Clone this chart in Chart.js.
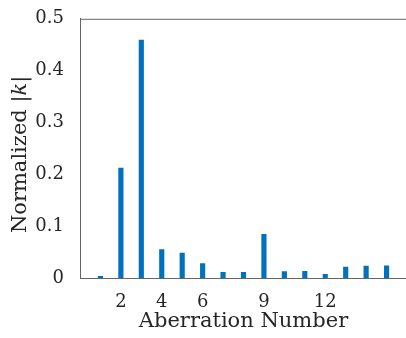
<!DOCTYPE html>
<html>
<head>
<meta charset="utf-8">
<script src="https://cdn.jsdelivr.net/npm/chart.js@4.4.1/dist/chart.umd.min.js"></script>
<style>
	html, body { margin: 0; padding: 0; background: #fff; overflow: hidden; }
	.wrap { width: 420px; height: 338px; }
</style>
</head>
<body>
<div class="wrap"><canvas id="chart" width="420" height="338"></canvas></div>
<script>
const aberrationNumbers = [1, 2, 3, 4, 5, 6, 7, 8, 9, 10, 11, 12, 13, 14, 15];
const normalizedK = [0.003, 0.212, 0.459, 0.055, 0.048, 0.028, 0.011, 0.011, 0.084, 0.0125, 0.013, 0.007, 0.021, 0.023, 0.0235];
const xTicks = [2, 4, 6, 9, 12];
const yTicks = [0, 0.1, 0.2, 0.3, 0.4, 0.5];

const fontFamily = '"DejaVu Serif", serif';
const axisColor = '#666666';
const textColor = '#262626';

// MATLAB-style top border and y title with italic k
const boxAndTitle = {
	id: 'boxAndTitle',
	afterDraw(chart) {
		const { ctx, chartArea } = chart;
		ctx.save();
		ctx.strokeStyle = axisColor;
		ctx.lineWidth = 1;
		ctx.beginPath();
		ctx.moveTo(chartArea.left, chartArea.top + 0.5);
		ctx.lineTo(chartArea.right + 20, chartArea.top + 0.5);
		ctx.stroke();

		const parts = [
			{ text: 'Normalized |', font: '21px ' + fontFamily },
			{ text: 'k', font: 'italic 21px ' + fontFamily },
			{ text: '|', font: '21px ' + fontFamily }
		];
		let total = 0;
		parts.forEach(p => { ctx.font = p.font; p.w = ctx.measureText(p.text).width; total += p.w; });
		ctx.translate(21, (chartArea.top + chartArea.bottom) / 2 + 6);
		ctx.rotate(-Math.PI / 2);
		ctx.fillStyle = textColor;
		ctx.textBaseline = 'middle';
		let x = -total / 2;
		parts.forEach(p => { ctx.font = p.font; ctx.fillText(p.text, x, 0); x += p.w; });
		ctx.restore();
	}
};

new Chart(document.getElementById('chart'), {
	type: 'bar',
	data: {
		labels: aberrationNumbers,
		datasets: [{
			data: aberrationNumbers.map((n, i) => ({ x: n, y: normalizedK[i] })),
			backgroundColor: '#0072BD',
			borderWidth: 0,
			barThickness: 4.5
		}]
	},
	options: {
		responsive: false,
		animation: false,
		layout: { padding: { top: 16, right: 13, left: 0, bottom: 0 } },
		plugins: { legend: { display: false }, tooltip: { enabled: false } },
		scales: {
			x: {
				type: 'linear',
				min: 0,
				max: 16,
				offset: false,
				grid: { display: false },
				border: { color: axisColor, width: 1 },
				afterBuildTicks: scale => { scale.ticks = xTicks.map(v => ({ value: v })); },
				afterFit: scale => { scale.height = 60; },
				ticks: {
					color: textColor,
					font: { family: fontFamily, size: 18 },
					padding: 6,
					maxRotation: 0
				},
				title: {
					display: true,
					text: 'Aberration Number',
					color: textColor,
					font: { family: fontFamily, size: 21 },
					padding: { top: 0, bottom: 4 }
				}
			},
			y: {
				min: 0,
				max: 0.5,
				grid: { display: false },
				border: { color: axisColor, width: 1 },
				afterBuildTicks: scale => { scale.ticks = yTicks.map(v => ({ value: v })); },
				afterFit: scale => { scale.width = 80; },
				ticks: {
					color: textColor,
					font: { family: fontFamily, size: 18 },
					padding: 8,
					callback: v => String(v)
				}
			}
		}
	},
	plugins: [boxAndTitle]
});
</script>
</body>
</html>
